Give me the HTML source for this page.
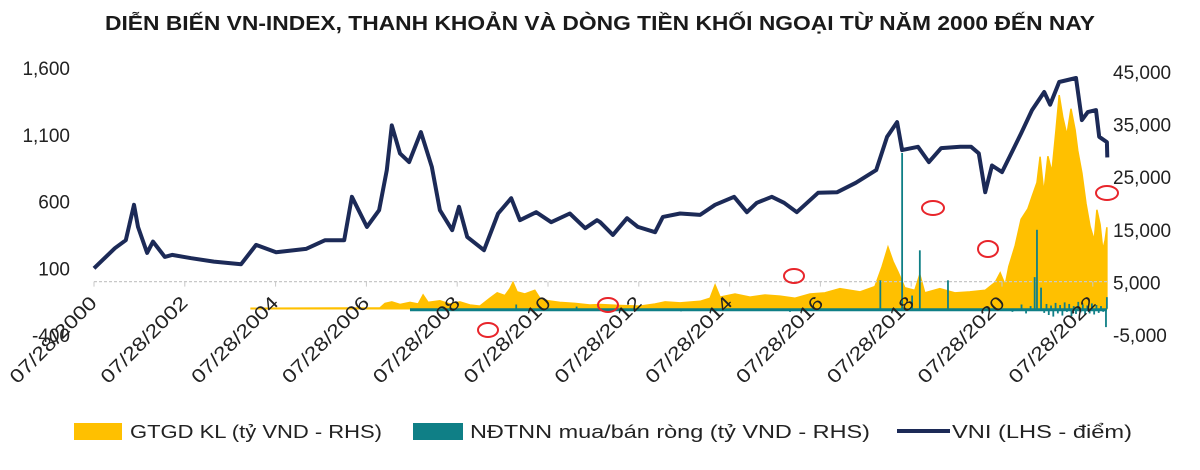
<!DOCTYPE html>
<html><head><meta charset="utf-8"><style>
html,body{margin:0;padding:0;background:#fff;}
svg{display:block;font-family:"Liberation Sans",sans-serif;}
</style></head><body>
<svg id="chart" width="1200" height="470" viewBox="0 0 1200 470">
<text x="600" y="30" text-anchor="middle" font-size="20" font-weight="bold" fill="#1a1a1a" textLength="990" lengthAdjust="spacingAndGlyphs">DIỄN BIẾN VN-INDEX, THANH KHOẢN VÀ DÒNG TIỀN KHỐI NGOẠI TỪ NĂM 2000 ĐẾN NAY</text>
<g id="yellow"></g>
<g id="grid"></g>
<g id="teal"></g>
<g id="vni"></g>
<g id="axes"></g>
<g fill="none" stroke="#e8252b" stroke-width="2">
<ellipse cx="488" cy="330" rx="10" ry="7"/>
<ellipse cx="608" cy="305" rx="10" ry="7"/>
<ellipse cx="794" cy="276" rx="10" ry="7"/>
<ellipse cx="933" cy="208" rx="11" ry="7"/>
<ellipse cx="988" cy="249" rx="10" ry="8"/>
<ellipse cx="1107" cy="193" rx="11" ry="7"/>
</g>
<g font-size="18" fill="#222">
<rect x="74" y="423" width="48" height="17" fill="#FFC000"/>
<text x="130" y="438" textLength="252" lengthAdjust="spacingAndGlyphs">GTGD KL (tỷ VND - RHS)</text>
<rect x="413" y="423" width="50" height="17" fill="#0F7F86"/>
<text x="470" y="438" textLength="400" lengthAdjust="spacingAndGlyphs">NĐTNN mua/bán ròng (tỷ VND - RHS)</text>
<line x1="897" y1="431" x2="950" y2="431" stroke="#1C2A57" stroke-width="4"/>
<text x="952" y="438" textLength="180" lengthAdjust="spacingAndGlyphs">VNI (LHS - điểm)</text>
</g>
</svg>
<script>
const NS='http://www.w3.org/2000/svg';
const vniYears=[2000.57,2001.03,2001.27,2001.45,2001.54,2001.74,2001.87,2002.13,2002.29,2002.71,2003.21,2003.81,2004.14,2004.58,2005.24,2005.66,2006.08,2006.25,2006.58,2006.85,2007.02,2007.13,2007.31,2007.51,2007.77,2008.01,2008.19,2008.46,2008.61,2008.79,2009.16,2009.47,2009.76,2009.95,2010.31,2010.64,2011.05,2011.39,2011.65,2011.72,2012.00,2012.31,2012.55,2012.93,2013.10,2013.48,2013.92,2014.25,2014.67,2014.95,2015.17,2015.50,2015.77,2016.05,2016.52,2016.94,2017.35,2017.80,2018.04,2018.26,2018.37,2018.72,2018.96,2019.23,2019.65,2019.89,2020.06,2020.20,2020.35,2020.57,2020.73,2020.99,2021.23,2021.50,2021.63,2021.83,2022.20,2022.33,2022.46,2022.64,2022.71,2022.88,2022.89];
const vniValues=[100,250,310,575,410,215,300,185,200,175,150,130,275,220,245,310,310,635,410,535,835,1170,960,895,1120,860,535,385,560,335,235,510,625,460,520,445,510,400,460,445,350,475,410,370,485,510,500,575,635,520,590,635,590,520,665,670,740,835,1085,1195,985,1010,895,1000,1010,1010,960,670,870,820,930,1110,1285,1420,1325,1495,1525,1210,1270,1285,1085,1045,930];
const gtgdYears=[2004.03,2006.87,2006.98,2007.13,2007.31,2007.53,2007.71,2007.82,2007.93,2008.19,2008.41,2008.63,2008.85,2009.07,2009.29,2009.45,2009.62,2009.73,2009.80,2009.89,2010.06,2010.28,2010.39,2010.57,2010.83,2011.16,2011.49,2011.72,2012.16,2012.60,2012.93,2013.15,2013.48,2013.92,2014.14,2014.25,2014.36,2014.69,2015.02,2015.35,2015.68,2016.01,2016.34,2016.67,2017.00,2017.44,2017.77,2017.93,2018.06,2018.17,2018.28,2018.43,2018.65,2018.76,2018.87,2019.20,2019.53,2019.86,2020.20,2020.42,2020.53,2020.64,2020.72,2020.86,2020.99,2021.14,2021.23,2021.34,2021.41,2021.49,2021.58,2021.67,2021.76,2021.83,2021.91,2022.00,2022.09,2022.18,2022.24,2022.33,2022.42,2022.51,2022.60,2022.66,2022.73,2022.79,2022.84,2022.88];
const gtgdValues=[100,150,1000,1300,800,1200,900,2600,1200,1500,900,1300,700,500,2000,3000,2500,3800,5000,3200,2800,3500,2000,1500,1200,1000,700,800,600,500,900,1300,1100,1400,2000,4500,2200,2800,2200,2600,2400,2000,2800,3000,3800,3200,4200,8000,11700,9000,7000,4000,3500,6500,3000,3800,3000,3200,3500,5000,6800,4500,8000,12000,17000,19000,21300,24000,28900,22000,29000,26000,34000,40600,36400,33000,38000,34000,30000,25800,20000,15600,13000,18800,16000,11200,13000,15500];
const ndtnnYears=[2009.87,2011.2,2013.5,2015.9,2017.89,2018.37,2018.59,2018.76,2019.38,2020.80,2021.00,2021.10,2021.20,2021.29,2021.34,2021.43,2021.50,2021.55,2021.60,2021.65,2021.70,2021.75,2021.80,2021.85,2021.90,2021.95,2022.00,2022.05,2022.10,2022.15,2022.20,2022.25,2022.30,2022.35,2022.40,2022.45,2022.50,2022.55,2022.60,2022.65,2022.70,2022.75,2022.80,2022.86,2022.88];
const ndtnnValues=[800,400,-500,-600,5400,29600,2500,11100,5400,-600,800,-900,500,6000,15000,4000,-800,900,-1200,600,-1500,1100,-900,700,-1300,1200,-600,900,-1400,500,-1000,1300,-700,800,-1200,600,-900,1000,-1100,700,-800,500,-600,-3500,2200];
const ndtnnStart=2007.53, ndtnnEnd=2022.88;
const leftTicks=[1600,1100,600,100,-400];
const leftTickLabels=['1,600','1,100','600','100','-400'];
const rightTicks=[45000,35000,25000,15000,5000,-5000];
const rightTickLabels=['45,000','35,000','25,000','15,000','5,000','-5,000'];
const xTickYears=[2000,2002,2004,2006,2008,2010,2012,2014,2016,2018,2020,2022];

const xs=y=>94+(y-2000.57)*45.4;
const yl=v=>281.6-v*0.1335;
const yr=v=>308.7-v*0.00526;
function mk(tag,attrs,parent){const e=document.createElementNS(NS,tag);for(const k in attrs)e.setAttribute(k,attrs[k]);parent.appendChild(e);return e;}

const yg=document.getElementById('yellow');
let d='M'+xs(gtgdYears[0])+','+yr(0);
gtgdYears.forEach((y,i)=>{d+=' L'+xs(y).toFixed(1)+','+yr(gtgdValues[i]).toFixed(1);});
d+=' L'+xs(gtgdYears[gtgdYears.length-1])+','+yr(0)+' Z';
const ya=mk('path',{d:d,fill:'#FFC000',stroke:'#FFC000','stroke-width':'1.5'},yg);



const gg=document.getElementById('grid');
const zl=mk('line',{x1:94,y1:yl(0),x2:1108,y2:yl(0),stroke:'#c8c8c8','stroke-width':'1.2','stroke-dasharray':'3,2'},gg);


xTickYears.forEach(y=>{const t=mk('line',{x1:xs(y+0.57),y1:yl(0),x2:xs(y+0.57),y2:yl(0)+5,stroke:'#c8c8c8','stroke-width':'1'},gg);

});

const tg=document.getElementById('teal');
const tb=mk('line',{x1:xs(ndtnnStart),y1:yr(0)+1,x2:xs(ndtnnEnd),y2:yr(0)+1,stroke:'#0F7F86','stroke-width':'3'},tg);


ndtnnYears.forEach((y,i)=>{const l=mk('line',{x1:xs(y),y1:yr(0),x2:xs(y),y2:yr(ndtnnValues[i]),stroke:'#0F7F86','stroke-width':'1.8'},tg);

});

const vg=document.getElementById('vni');
const pts=vniYears.map((y,i)=>xs(y).toFixed(1)+','+yl(vniValues[i]).toFixed(1)).join(' ');
const vl=mk('polyline',{points:pts,fill:'none',stroke:'#1C2A57','stroke-width':'4','stroke-linejoin':'round'},vg);



const ag=document.getElementById('axes');
leftTicks.forEach((v,i)=>{const t=mk('text',{x:70,y:yl(v)+7,'text-anchor':'end','font-size':'19',fill:'#222'},ag);t.textContent=leftTickLabels[i];

});
rightTicks.forEach((v,i)=>{const t=mk('text',{x:1113,y:yr(v)+7,'text-anchor':'start','font-size':'19',fill:'#222'},ag);t.textContent=rightTickLabels[i];

});
xTickYears.forEach(y=>{const x=xs(y+0.57)+4;const t=mk('text',{x:0,y:0,'text-anchor':'end','font-size':'19',fill:'#222',textLength:'114',lengthAdjust:'spacingAndGlyphs',transform:'translate('+x+',304) rotate(-45)'},ag);t.textContent='07/28/'+y;

});
</script>
</body></html>
